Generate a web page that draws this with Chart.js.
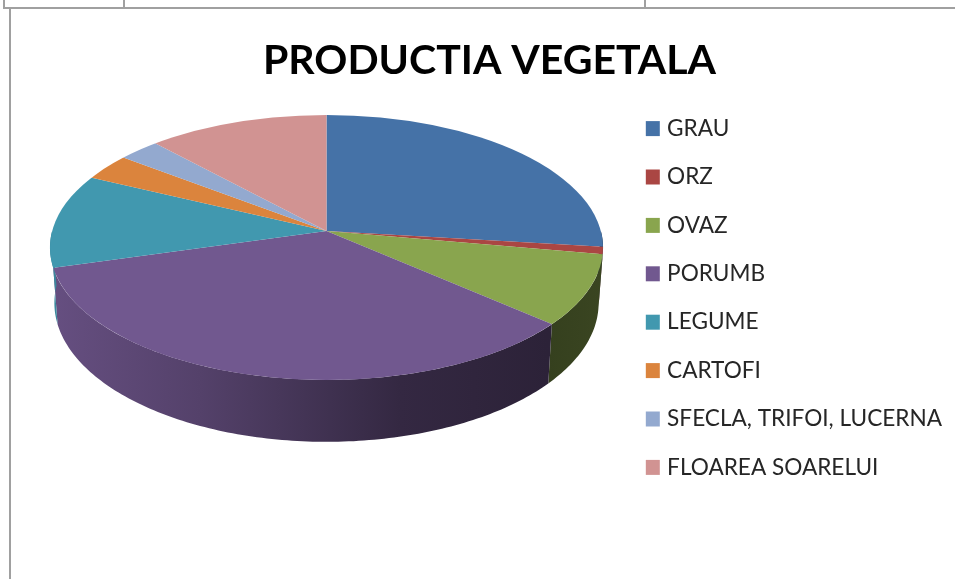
<!DOCTYPE html>
<html>
<head>
<meta charset="utf-8">
<title>PRODUCTIA VEGETALA</title>
<script src="https://cdn.jsdelivr.net/npm/chart.js@4/dist/chart.umd.min.js"></script>
<style>
  html, body { margin: 0; padding: 0; background: #fff; overflow: hidden; }
  #wrap { position: relative; width: 955px; height: 579px; }
  #wrap canvas { position: absolute; left: 0; top: 0; }
  .rule { position: absolute; background: #a0a0a0; }
</style>
</head>
<body>
<div id="wrap">
  <div class="rule" style="left:3px;top:7px;width:952px;height:2px"></div>
  <div class="rule" style="left:9px;top:8px;width:2px;height:571px"></div>
  <div class="rule" style="left:3px;top:0;width:2px;height:8px"></div>
  <div class="rule" style="left:123px;top:0;width:2px;height:8px"></div>
  <div class="rule" style="left:644px;top:0;width:2px;height:8px"></div>
  <canvas id="chart" width="955" height="579"></canvas>
</div>
<script>
const titleText = 'PRODUCTIA VEGETALA';
const categories = ['GRAU', 'ORZ', 'OVAZ', 'PORUMB', 'LEGUME', 'CARTOFI', 'SFECLA, TRIFOI, LUCERNA', 'FLOAREA SOARELUI'];
const shares = [26.9, 0.9, 8.6, 34.2, 11.5, 3.25, 2.75, 11.9];
const colors = ['#4572a7', '#aa4643', '#89a54e', '#71588f', '#4198af', '#db843d', '#93a9cf', '#d19392'];

// look of the tilted disc
const apex = { x: 326.5, y: 231 };
const disc = { radius: 274.4, tilt: 0.475, persp: 0.1245 };
const rim = { cx: 326.5, cy: 247.5, rx: 276.5, ry: 132.5 };
const foot = { y: 285.8, sx: 0.984, sy: 1.048 };
// wall shading, left to right: [x, brightness]
const wallShade = [[50, 0.9], [200, 0.74], [330, 0.56], [400, 0.46], [548, 0.39], [603, 0.42]];

function shade(hex, f) {
  const n = parseInt(hex.slice(1), 16);
  const c = [n >> 16, (n >> 8) & 255, n & 255].map(v => Math.round(v * f));
  return `rgb(${c[0]},${c[1]},${c[2]})`;
}

// point on the rim for a canvas angle, relative to the apex
function rimPoint(a) {
  const d = 1 - disc.persp * Math.sin(a);
  return {
    x: disc.radius * Math.cos(a) / d,
    y: disc.radius * disc.tilt * Math.sin(a) / d
  };
}

function drawWalls(ctx, arcs) {
  arcs.forEach((arc, i) => {
    const from = Math.max(arc.startAngle, 0);
    const to = Math.min(arc.endAngle, Math.PI);
    if (to <= from) return;

    const grad = ctx.createLinearGradient(wallShade[0][0], 0, wallShade[wallShade.length - 1][0], 0);
    const span = wallShade[wallShade.length - 1][0] - wallShade[0][0];
    wallShade.forEach(([x, f]) => grad.addColorStop((x - wallShade[0][0]) / span, shade(colors[i], f)));

    const steps = Math.max(2, Math.ceil((to - from) * 60));
    const top = [];
    const bottom = [];
    for (let s = 0; s <= steps; s++) {
      const p = rimPoint(from + (to - from) * s / steps);
      top.push([apex.x + p.x, apex.y + p.y]);
      bottom.push([apex.x + foot.sx * p.x, foot.y + foot.sy * p.y]);
    }
    ctx.beginPath();
    top.forEach(([x, y], k) => (k ? ctx.lineTo(x, y) : ctx.moveTo(x, y)));
    bottom.reverse().forEach(([x, y]) => ctx.lineTo(x, y));
    ctx.closePath();
    ctx.fillStyle = grad;
    ctx.fill();
  });
}

// the doughnut controller draws a flat circle, so tilt it here
const tiltPlugin = {
  id: 'tilt',
  beforeDatasetsDraw(chart) {
    const ctx = chart.ctx;
    const arcs = chart.getDatasetMeta(0).data;
    drawWalls(ctx, arcs);
    ctx.save();
    ctx.beginPath();
    ctx.ellipse(rim.cx, rim.cy, rim.rx, rim.ry, 0, 0, Math.PI * 2);
    ctx.clip();
    ctx.translate(apex.x, apex.y);
    ctx.scale(1, disc.tilt);
    ctx.translate(-arcs[0].x, -arcs[0].y);
  },
  afterDatasetsDraw(chart) {
    chart.ctx.restore();
  }
};

new Chart(document.getElementById('chart').getContext('2d'), {
  type: 'pie',
  plugins: [tiltPlugin],
  data: {
    labels: categories,
    datasets: [{
      data: shares,
      backgroundColor: colors,
      borderWidth: 0,
      radius: 760,
      clip: false
    }]
  },
  options: {
    responsive: false,
    animation: false,
    events: [],
    layout: { padding: { left: 27, top: 32, right: 3, bottom: 15 } },
    plugins: {
      tooltip: { enabled: false },
      title: {
        display: true,
        text: titleText,
        color: '#000',
        font: { family: 'Lato', size: 41, weight: 'bold', lineHeight: 1.2 },
        padding: { top: 4, bottom: 25 }
      },
      legend: {
        position: 'right',
        align: 'center',
        labels: {
          color: '#262626',
          font: { family: 'Lato', size: 22.6, lineHeight: 1.2 },
          boxWidth: 6,
          boxHeight: 7,
          padding: 25.8,
          generateLabels: chart => categories.map((text, i) => ({
            text,
            index: i,
            fillStyle: colors[i],
            strokeStyle: colors[i],
            lineWidth: 8,
            fontColor: '#262626'
          }))
        }
      }
    }
  }
});
</script>
</body>
</html>
